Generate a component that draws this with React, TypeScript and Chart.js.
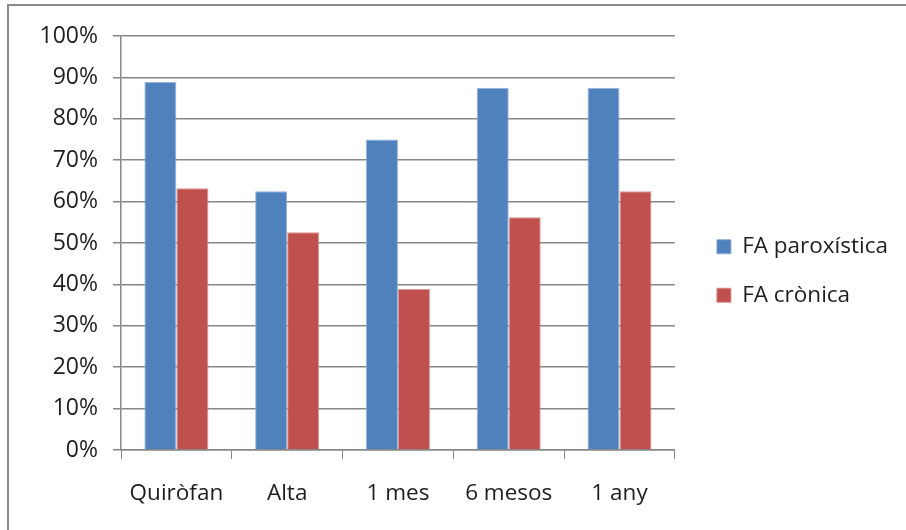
import React, { useEffect, useRef } from "react";
import { Chart, registerables } from "chart.js";

Chart.register(...registerables);

const categories = ["Quiròfan", "Alta", "1 mes", "6 mesos", "1 any"];
const seriesNames = ["FA paroxística", "FA crònica"];
const paroxistica = [88.9, 62.5, 75, 87.5, 87.5];
const cronica = [63.2, 52.6, 38.9, 56.25, 62.5];
const yTickMax = 100;
const yTickStep = 10;

const FONT = "'Open Sans', sans-serif";
const TEXT = "#1e1e1e";
const GRID = "#878787";

const legendGap = {
  id: "legendGap",
  afterLayout(chart: any) {
    const l = chart.legend;
    if (l) {
      l.left += 16;
      l.right += 16;
      l.top -= 11;
      l.bottom -= 11;
    }
  },
};

export default function App() {
  const ref = useRef<HTMLCanvasElement | null>(null);

  useEffect(() => {
    if (!ref.current) return;
    const chart = new Chart(ref.current, {
      type: "bar",
      data: {
        labels: categories,
        datasets: [
          {
            label: seriesNames[0],
            data: paroxistica,
            backgroundColor: "#4f81bd",
            borderColor: "rgba(140,170,215,0.9)",
            borderWidth: 1,
            categoryPercentage: 0.578,
            barPercentage: 1,
          },
          {
            label: seriesNames[1],
            data: cronica,
            backgroundColor: "#c0504d",
            borderColor: "rgba(215,140,138,0.9)",
            borderWidth: 1,
            categoryPercentage: 0.578,
            barPercentage: 1,
          },
        ],
      },
      plugins: [legendGap],
      options: {
        responsive: false,
        animation: false,
        layout: { padding: { top: 36, bottom: 2, left: 0, right: 24 } },
        plugins: {
          legend: {
            position: "right",
            align: "center",
            labels: {
              boxWidth: 14,
              boxHeight: 14,
              padding: 26,
              color: TEXT,
              font: { family: FONT, size: 22.5 },
            },
          },
          tooltip: { enabled: false },
        },
        scales: {
          x: {
            grid: {
              display: true,
              drawOnChartArea: false,
              drawTicks: true,
              tickLength: 9,
              color: GRID,
              offset: true,
            },
            border: { display: true, color: GRID, width: 1.5 },
            ticks: {
              color: TEXT,
              font: { family: FONT, size: 22.5 },
              padding: 21,
              maxRotation: 0,
            },
          },
          y: {
            min: 0,
            max: yTickMax,
            afterFit: (s: any) => {
              s.width = 121;
            },
            grid: {
              color: GRID,
              lineWidth: 1.5,
              drawTicks: true,
              tickLength: 8,
            },
            border: { display: true, color: GRID, width: 1.5 },
            ticks: {
              stepSize: yTickStep,
              color: TEXT,
              font: { family: FONT, size: 23 },
              padding: 15,
              callback: (v: any) => v + "%",
            },
          },
        },
      },
    });
    return () => chart.destroy();
  }, []);

  return (
    <div style={{ position: "fixed", left: 0, top: 0, width: 906, height: 530, background: "#fff" }}>
      <div
        style={{
          position: "absolute",
          left: 7,
          top: 4,
          right: 0,
          bottom: 0,
          borderTop: "2px solid #8a8a8a",
          borderLeft: "2px solid #8a8a8a",
        }}
      />
      <canvas ref={ref} width={906} height={530} style={{ position: "absolute", left: 0, top: 0 }} />
    </div>
  );
}
